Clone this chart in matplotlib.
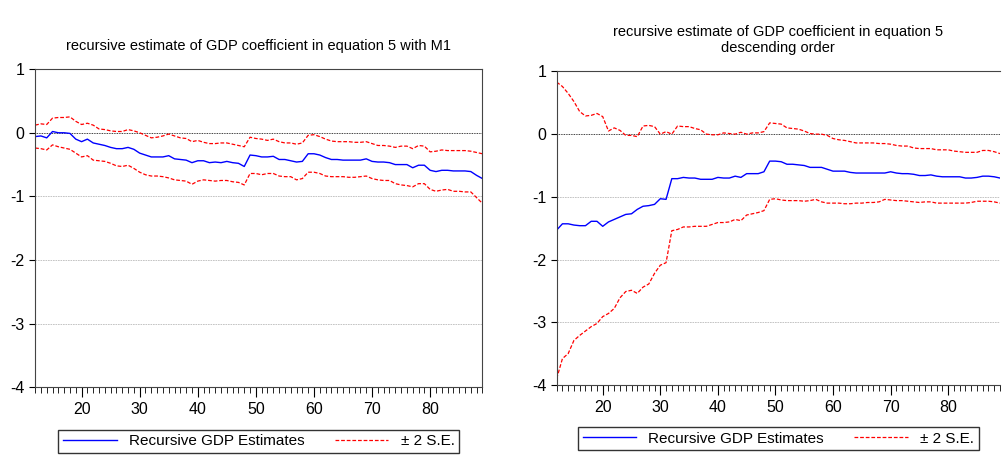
import numpy as np
import matplotlib.pyplot as plt
from matplotlib.ticker import MultipleLocator

plt.rcParams['font.family'] = ['Liberation Sans', 'DejaVu Sans']
plt.rcParams['axes.unicode_minus'] = False

obs = list(range(12, 90))

# left panel: equation 5 with M1
left_est = [-0.06, -0.05, -0.08, 0.02, 0.0, 0.0, -0.01, -0.1, -0.14, -0.1,
            -0.16, -0.18, -0.2, -0.23, -0.25, -0.25, -0.23, -0.26, -0.32, -0.35,
            -0.38, -0.38, -0.38, -0.36, -0.41, -0.42, -0.43, -0.47, -0.44, -0.44,
            -0.47, -0.46, -0.47, -0.45, -0.47, -0.48, -0.53, -0.35, -0.36, -0.38,
            -0.38, -0.37, -0.42, -0.42, -0.44, -0.46, -0.45, -0.33, -0.33, -0.35,
            -0.39, -0.42, -0.42, -0.43, -0.43, -0.43, -0.43, -0.41, -0.45, -0.46,
            -0.46, -0.47, -0.5, -0.5, -0.5, -0.55, -0.51, -0.51, -0.59, -0.61,
            -0.59, -0.59, -0.6, -0.6, -0.6, -0.61, -0.67, -0.72]
left_up = [0.12, 0.14, 0.13, 0.23, 0.24, 0.24, 0.25, 0.18, 0.13, 0.15,
           0.12, 0.06, 0.05, 0.03, 0.02, 0.02, 0.05, 0.03, 0.0, -0.04,
           -0.08, -0.07, -0.05, -0.02, -0.05, -0.08, -0.09, -0.14, -0.12, -0.15,
           -0.17, -0.17, -0.16, -0.16, -0.18, -0.2, -0.22, -0.07, -0.09, -0.1,
           -0.12, -0.1, -0.14, -0.16, -0.16, -0.18, -0.16, -0.04, -0.03, -0.06,
           -0.1, -0.13, -0.14, -0.14, -0.14, -0.15, -0.15, -0.14, -0.17, -0.2,
           -0.2, -0.21, -0.23, -0.21, -0.21, -0.25, -0.2, -0.21, -0.3, -0.29,
           -0.27, -0.28, -0.28, -0.28, -0.28, -0.29, -0.31, -0.33]
left_lo = [-0.24, -0.25, -0.27, -0.19, -0.22, -0.24, -0.26, -0.32, -0.38, -0.36,
           -0.43, -0.44, -0.45, -0.48, -0.52, -0.53, -0.51, -0.56, -0.62, -0.66,
           -0.68, -0.68, -0.69, -0.71, -0.74, -0.75, -0.76, -0.81, -0.76, -0.74,
           -0.75, -0.76, -0.75, -0.75, -0.77, -0.78, -0.82, -0.64, -0.64, -0.66,
           -0.64, -0.64, -0.68, -0.69, -0.69, -0.74, -0.72, -0.62, -0.62, -0.64,
           -0.68, -0.69, -0.69, -0.69, -0.7, -0.7, -0.69, -0.68, -0.72, -0.74,
           -0.75, -0.75, -0.8, -0.82, -0.83, -0.85, -0.8, -0.8, -0.89, -0.92,
           -0.9, -0.89, -0.92, -0.92, -0.93, -0.93, -1.02, -1.11]

# right panel: equation 5, descending order
right_est = [-1.53, -1.43, -1.43, -1.45, -1.46, -1.46, -1.39, -1.39, -1.47, -1.4,
             -1.36, -1.32, -1.28, -1.27, -1.2, -1.15, -1.14, -1.12, -1.03, -1.04,
             -0.71, -0.71, -0.69, -0.7, -0.7, -0.72, -0.72, -0.72, -0.69, -0.7,
             -0.7, -0.67, -0.69, -0.63, -0.63, -0.63, -0.6, -0.43, -0.43, -0.44,
             -0.48, -0.48, -0.49, -0.5, -0.53, -0.53, -0.53, -0.56, -0.59, -0.59,
             -0.59, -0.61, -0.62, -0.62, -0.62, -0.62, -0.62, -0.62, -0.6, -0.62,
             -0.63, -0.63, -0.64, -0.66, -0.66, -0.65, -0.67, -0.68, -0.68, -0.68,
             -0.68, -0.7, -0.7, -0.69, -0.67, -0.67, -0.68, -0.7]
right_up = [0.83, 0.76, 0.65, 0.52, 0.36, 0.29, 0.3, 0.33, 0.28, 0.05,
            0.1, 0.06, -0.02, -0.02, -0.04, 0.13, 0.14, 0.12, 0.0, 0.04,
            0.0, 0.13, 0.12, 0.12, 0.09, 0.07, 0.0, -0.01, -0.01, 0.02,
            0.01, 0.0, 0.03, 0.0, 0.02, 0.02, 0.04, 0.18, 0.17, 0.16,
            0.1, 0.09, 0.08, 0.05, 0.01, 0.0, 0.0, -0.02, -0.07, -0.09,
            -0.1, -0.12, -0.14, -0.14, -0.14, -0.14, -0.15, -0.15, -0.16, -0.18,
            -0.19, -0.19, -0.22, -0.23, -0.23, -0.23, -0.25, -0.25, -0.25, -0.27,
            -0.28, -0.29, -0.29, -0.29, -0.26, -0.26, -0.28, -0.31]
right_lo = [-3.9, -3.58, -3.5, -3.29, -3.21, -3.14, -3.07, -3.02, -2.91, -2.86,
            -2.78, -2.61, -2.51, -2.49, -2.54, -2.44, -2.39, -2.22, -2.09, -2.05,
            -1.54, -1.52, -1.48, -1.48, -1.47, -1.47, -1.47, -1.44, -1.41, -1.41,
            -1.4, -1.36, -1.38, -1.29, -1.27, -1.25, -1.22, -1.04, -1.03, -1.05,
            -1.06, -1.06, -1.06, -1.07, -1.06, -1.04, -1.08, -1.1, -1.1, -1.1,
            -1.11, -1.11, -1.1, -1.1, -1.09, -1.09, -1.08, -1.04, -1.05, -1.06,
            -1.06, -1.07, -1.08, -1.09, -1.08, -1.08, -1.1, -1.1, -1.1, -1.1,
            -1.1, -1.1, -1.09, -1.07, -1.07, -1.07, -1.08, -1.1]

titles = ['recursive estimate of GDP coefficient in equation 5 with M1',
          'recursive estimate of GDP coefficient in equation 5\ndescending order']

fig = plt.figure(figsize=(10.03, 4.61), dpi=100)
axes = [fig.add_axes([0.035, 0.16, 0.446, 0.69]),
        fig.add_axes([0.555, 0.165, 0.442, 0.68])]
panels = [(left_est, left_up, left_lo), (right_est, right_up, right_lo)]

for ax, (est, up, lo), title in zip(axes, panels, titles):
    ax.plot(obs, est, color='blue', lw=1, label='Recursive GDP Estimates')
    ax.plot(obs, up, color='red', lw=0.9, ls=(0, (3, 1.5)), label='± 2 S.E.')
    ax.plot(obs, lo, color='red', lw=0.9, ls=(0, (3, 1.5)))
    ax.axhline(0, color='black', lw=0.6, ls=(0, (1, 1)), zorder=0)
    for g in (-1, -2, -3):
        ax.axhline(g, color='#bbbbbb', lw=0.6, ls=(0, (2, 1)), zorder=0)
    ax.set_xlim(12, 89)
    ax.set_ylim(-4, 1)
    ax.set_yticks([1, 0, -1, -2, -3, -4])
    ax.xaxis.set_major_locator(MultipleLocator(10))
    ax.xaxis.set_minor_locator(MultipleLocator(1))
    ax.tick_params(axis='x', which='major', direction='out', length=7, labelsize=11.5)
    ax.tick_params(axis='x', which='minor', direction='out', length=4)
    ax.tick_params(axis='y', direction='out', length=4, labelsize=11.5)
    for s in ax.spines.values():
        s.set_color('#444444')
        s.set_linewidth(0.8)
    ax.set_title(title, fontsize=10.5, pad=14)
    ax.legend(loc='upper center', bbox_to_anchor=(0.5, -0.11), ncol=2,
              frameon=True, fancybox=False, edgecolor='black', fontsize=11,
              handlelength=3.5, columnspacing=2, borderpad=0.3)

axes[1].spines['right'].set_visible(False)

plt.savefig('out.png')
